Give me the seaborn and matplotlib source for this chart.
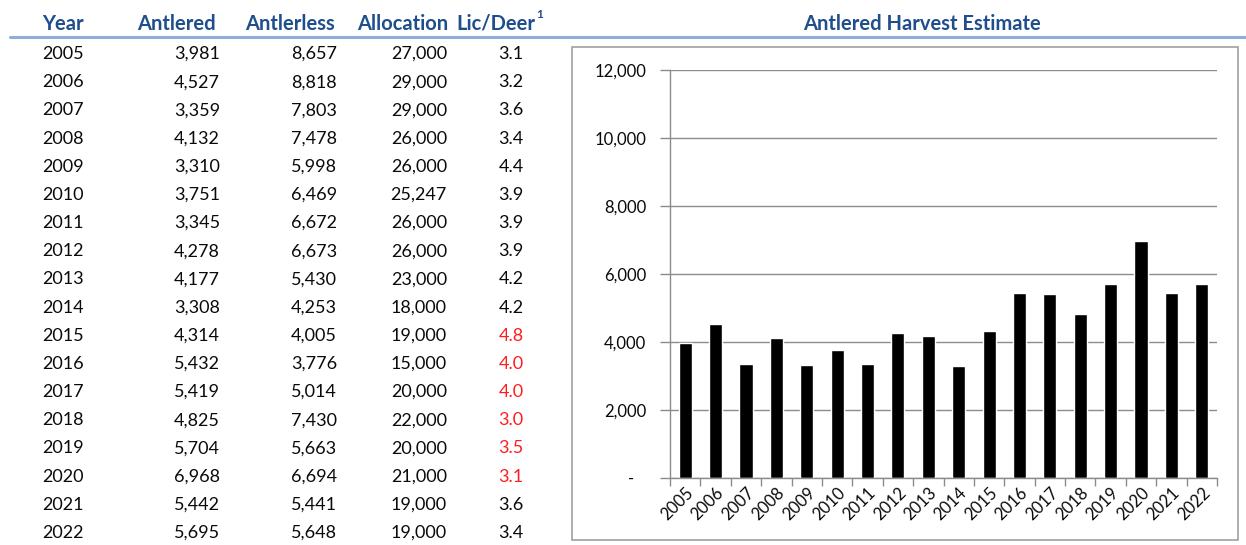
import matplotlib
matplotlib.use("Agg")
import matplotlib.pyplot as plt
import matplotlib.ticker as mticker
from matplotlib.patches import Rectangle
from matplotlib.lines import Line2D
import seaborn as sns
import pandas as pd

# Harvest summary by year
years = [2005, 2006, 2007, 2008, 2009, 2010, 2011, 2012, 2013,
         2014, 2015, 2016, 2017, 2018, 2019, 2020, 2021, 2022]
antlered = [3981, 4527, 3359, 4132, 3310, 3751, 3345, 4278, 4177,
            3308, 4314, 5432, 5419, 4825, 5704, 6968, 5442, 5695]
antlerless = [8657, 8818, 7803, 7478, 5998, 6469, 6672, 6673, 5430,
              4253, 4005, 3776, 5014, 7430, 5663, 6694, 5441, 5648]
allocation = [27000, 29000, 29000, 26000, 26000, 25247, 26000, 26000, 23000,
              18000, 19000, 15000, 20000, 22000, 20000, 21000, 19000, 19000]
lic_per_deer = ["3.1", "3.2", "3.6", "3.4", "4.4", "3.9", "3.9", "3.9", "4.2",
                "4.2", "4.8", "4.0", "4.0", "3.0", "3.5", "3.1", "3.6", "3.4"]
flagged_years = [2015, 2016, 2017, 2018, 2019, 2020]

headers = ["Year", "Antlered", "Antlerless", "Allocation", "Lic/Deer"]
chart_title = "Antlered Harvest Estimate"
y_ticks = [0, 2000, 4000, 6000, 8000, 10000, 12000]

sns.set_style("white")
plt.rcParams["font.family"] = ["Lato", "DejaVu Sans"]

W, H = 1246, 545
fig = plt.figure(figsize=(W / 100, H / 100), dpi=100)

def fx(px):
    return px / W

def fy(py):
    return 1 - py / H

HEAD_COLOR = "#1F4E8C"
TXT = "#0A0A0A"
RED = "#FF1E1E"

# ---- header row ----
head_y = fy(24)
fs_head = 14.5
fig.text(fx(42), head_y, headers[0], ha="left", va="center",
         fontsize=fs_head, fontweight="bold", color=HEAD_COLOR)
for label, xr in zip(headers[1:4], [216, 335, 448]):
    fig.text(fx(xr), head_y, label, ha="right", va="center",
             fontsize=fs_head, fontweight="bold", color=HEAD_COLOR)
fig.text(fx(535), head_y, headers[4], ha="right", va="center",
         fontsize=fs_head, fontweight="bold", color=HEAD_COLOR)
fig.text(fx(536), fy(14), "1", ha="left", va="center",
         fontsize=8.5, fontweight="bold", color=HEAD_COLOR)
fig.text(fx(922), head_y, chart_title, ha="center", va="center",
         fontsize=fs_head, fontweight="bold", color=HEAD_COLOR)

# rule under the header row
fig.add_artist(Line2D([fx(10), fx(1246)], [fy(37), fy(37)],
                      transform=fig.transFigure, color="#8FAFD6", lw=2.2))

# ---- table body ----
fs_row = 13
row0, row_step = 54, (533 - 54) / 17
for i, yr in enumerate(years):
    y = fy(row0 + i * row_step)
    fig.text(fx(42), y, str(yr), ha="left", va="center", fontsize=fs_row, color=TXT)
    fig.text(fx(220), y, f"{antlered[i]:,}", ha="right", va="center", fontsize=fs_row, color=TXT)
    fig.text(fx(337), y, f"{antlerless[i]:,}", ha="right", va="center", fontsize=fs_row, color=TXT)
    fig.text(fx(447), y, f"{allocation[i]:,}", ha="right", va="center", fontsize=fs_row, color=TXT)
    fig.text(fx(511), y, lic_per_deer[i], ha="center", va="center", fontsize=fs_row,
             color=RED if yr in flagged_years else TXT)

# ---- chart frame ----
fig.add_artist(Rectangle((fx(572), fy(540)), fx(1238) - fx(572), fy(47) - fy(540),
                         transform=fig.transFigure, fill=False,
                         edgecolor="#A0A0A0", lw=1.2))

# ---- bar chart ----
ax = fig.add_axes([fx(670), fy(478), fx(1217) - fx(670), fy(70) - fy(478)])
df = pd.DataFrame({"Year": [str(y) for y in years], "Antlered": antlered})
sns.barplot(data=df, x="Year", y="Antlered", color="black", width=0.43,
            saturation=1, ax=ax)

ax.set_xlim(-0.5, len(years) - 0.5)
ax.set_ylim(0, 12000)
ax.set_yticks(y_ticks)
ax.yaxis.set_major_formatter(mticker.FuncFormatter(
    lambda v, p: "-   " if v == 0 else f"{int(v):,}"))
ax.set_xlabel("")
ax.set_ylabel("")

grid_c = "#8C8C8C"
ax.grid(axis="y", color=grid_c, lw=1)
ax.set_axisbelow(True)
for side in ["top", "right"]:
    ax.spines[side].set_visible(False)
for side in ["left", "bottom"]:
    ax.spines[side].set_color(grid_c)
    ax.spines[side].set_linewidth(1)

ax.tick_params(axis="y", which="major", left=True, length=7, width=1,
               color=grid_c, pad=10, labelsize=12, labelcolor=TXT)
ax.tick_params(axis="x", which="major", bottom=False, length=0, pad=5,
               labelsize=12, labelcolor=TXT)
ax.set_xticks([i + 0.5 for i in range(-1, len(years))], minor=True)
ax.tick_params(axis="x", which="minor", bottom=True, length=6, width=1,
               color=grid_c, direction="out")
plt.setp(ax.get_xticklabels(), rotation=45, ha="right", rotation_mode="anchor")

fig.savefig("out.png", dpi=100)
